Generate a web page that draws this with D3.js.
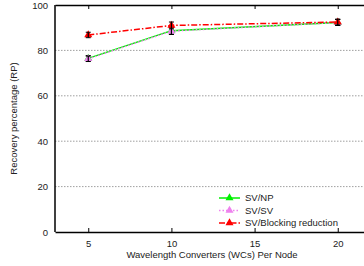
<!DOCTYPE html>
<html><head><meta charset="utf-8">
<script src="https://cdn.jsdelivr.net/npm/d3@7"></script>
<style>body{margin:0;background:#fff}svg{display:block}</style>
</head><body>
<script>
const xValues = [5, 10, 20];
const seriesNames = ["SV/NP", "SV/SV", "SV/Blocking reduction"];
const npValues = [76.5, 88.7, 92.3];
const svValues = [76.3, 88.5, 92.3];
const brValues = [86.8, 91.0, 92.5];
const errValues = [1.2, 1.5, 1.3];
const xTicks = [5, 10, 15, 20];
const yTicks = [0, 20, 40, 60, 80, 100];
const yLabel = "Recovery percentage (RP)";
const xLabel = "Wavelength Converters (WCs) Per Node";

const W = 364, H = 266;
const m = {l: 55, t: 5, b: 34};
const svg = d3.select("body").append("svg").attr("width", W).attr("height", H);
const x = d3.scaleLinear().domain([3, 22]).range([m.l, m.l + 316]);
const y = d3.scaleLinear().domain([0, 100]).range([H - m.b, m.t]);
const font = "Liberation Sans, Arial, sans-serif";
const fs = 9.5;

// gridlines
svg.append("g").selectAll("line").data(yTicks.filter(d => d > 0 && d < 100)).join("line")
  .attr("x1", m.l).attr("x2", W).attr("y1", d => y(d)).attr("y2", d => y(d))
  .attr("stroke", "#888").attr("stroke-width", 0.8).attr("stroke-dasharray", "1.5,1.5");

// axes
const yAxis = d3.axisLeft(y).tickValues(yTicks).tickSize(0).tickPadding(7);
const gy = svg.append("g").attr("transform", `translate(${m.l},0)`).call(yAxis);
const xAxis = d3.axisBottom(x).tickValues(xTicks).tickSizeInner(-4).tickSizeOuter(0).tickPadding(8);
const gx = svg.append("g").attr("transform", `translate(0,${y(0)})`).call(xAxis);
const xTop = d3.axisTop(x).tickValues(xTicks).tickSizeInner(-4).tickSizeOuter(0).tickFormat("");
const gt = svg.append("g").attr("transform", `translate(0,${y(100)})`).call(xTop);
[gy, gx, gt].forEach(g => {
  g.selectAll("path").attr("stroke", "#000").attr("stroke-width", 1.5);
  g.selectAll("line").attr("stroke", "#000");
  g.selectAll("text").attr("font-family", font).attr("font-size", fs).attr("fill", "#222");
});
gy.select("path.domain").remove();
svg.append("line").attr("x1", m.l).attr("x2", m.l).attr("y1", y(100)).attr("y2", y(0))
  .attr("stroke", "#000").attr("stroke-width", 1.5);

// labels
svg.append("text").attr("transform", `translate(17,${(y(0)+y(100))/2}) rotate(-90)`)
  .attr("text-anchor", "middle").attr("font-family", font).attr("font-size", fs).attr("fill", "#222").text(yLabel);
svg.append("text").attr("x", 212).attr("y", 258).attr("text-anchor", "middle")
  .attr("font-family", font).attr("font-size", fs).attr("fill", "#222").text(xLabel);

const series = [
  {name: seriesNames[0], values: npValues, color: "#00f000", dash: null},
  {name: seriesNames[1], values: svValues, color: "#ee82ee", dash: "1.5,2"},
  {name: seriesNames[2], values: brValues, color: "#ff0000", dash: "6,2,1.5,2"}
];
const line = d3.line().x((d, i) => x(xValues[i])).y(d => y(d));
const tri = d3.symbol().type(d3.symbolTriangle).size(28);

series.forEach(s => {
  svg.append("path").datum(s.values).attr("d", line).attr("fill", "none")
    .attr("stroke", s.color).attr("stroke-width", 1.5).attr("stroke-dasharray", s.dash);
});
series.forEach(s => {
  const g = svg.append("g");
  g.selectAll("path").data(s.values).join("path").attr("d", tri)
    .attr("transform", (d, i) => `translate(${x(xValues[i])},${y(d)})`).attr("fill", s.color);
  const eb = g.selectAll("g.eb").data(s.values).join("g");
  eb.append("line").attr("x1", (d, i) => x(xValues[i])).attr("x2", (d, i) => x(xValues[i]))
    .attr("y1", (d, i) => y(d - errValues[i])).attr("y2", (d, i) => y(d + errValues[i])).attr("stroke", "#000").attr("stroke-width", 1.2);
  [-1, 1].forEach(sg => eb.append("line")
    .attr("x1", (d, i) => x(xValues[i]) - 2.5).attr("x2", (d, i) => x(xValues[i]) + 2.5)
    .attr("y1", (d, i) => y(d + sg * errValues[i])).attr("y2", (d, i) => y(d + sg * errValues[i]))
    .attr("stroke", "#000").attr("stroke-width", 1));
});

// legend
const lg = svg.append("g");
series.forEach((s, i) => {
  const yy = 198 + i * 12.5;
  lg.append("line").attr("x1", 219).attr("x2", 240).attr("y1", yy).attr("y2", yy)
    .attr("stroke", s.color).attr("stroke-width", 1.5).attr("stroke-dasharray", s.dash);
  lg.append("path").attr("d", tri).attr("transform", `translate(229.5,${yy})`).attr("fill", s.color);
  lg.append("text").attr("x", 245).attr("y", yy + 3.4).attr("font-family", font).attr("font-size", fs)
    .attr("fill", "#222").text(s.name);
});
</script>
</body></html>
